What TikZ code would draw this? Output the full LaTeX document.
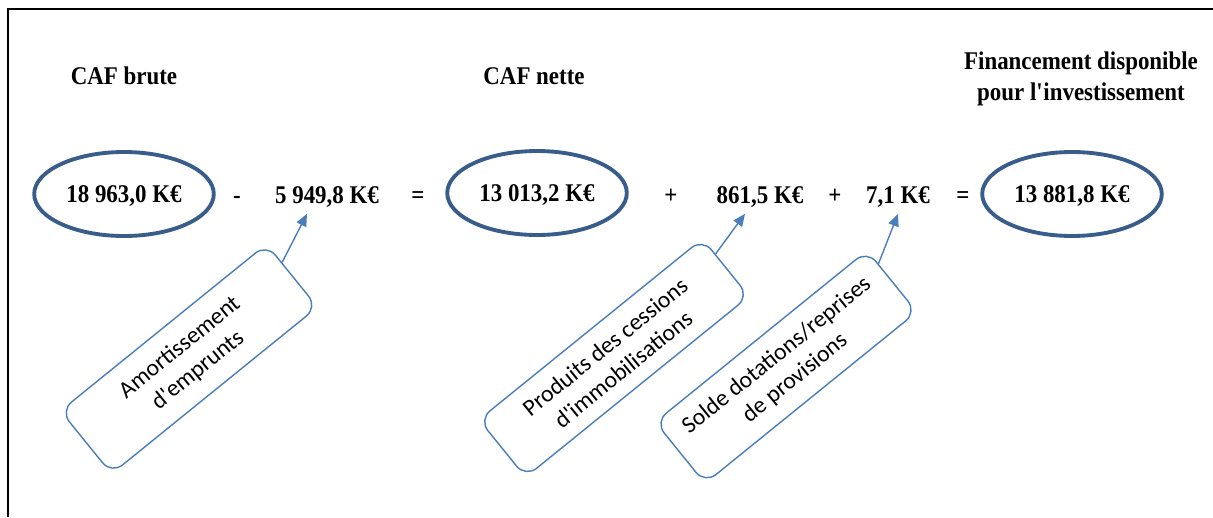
\documentclass[tikz,border=0pt]{standalone}
\usepackage{fontspec}
\setmainfont{Liberation Serif}[FakeStretch=0.9]
\newfontfamily\calloutfont{Carlito}
\usetikzlibrary{arrows.meta,calc,shapes.geometric}

\definecolor{ovalblue}{HTML}{385D8A}
\definecolor{calloutblue}{HTML}{4A7EBB}

\begin{document}
\begin{tikzpicture}[
        x=0.02cm,
        y=-0.02cm,
        every node/.style={font=\fontsize{14.5}{17.5}\selectfont\bfseries},
        title/.style={
            align=center
        },
        amount/.style={
            anchor=base,
            inner sep=2pt
        },
        oval/.style={
            ellipse,
            draw=ovalblue,
            line width=2.2pt,
            text depth=0pt,
            minimum width=3.42cm,
            minimum height=1.68cm
        },
        callout/.style={
            rectangle,
            rounded corners=8pt,
            draw=calloutblue,
            line width=0.8pt,
            align=center,
            rotate=39,
            font=\calloutfont\fontsize{13.5}{16.5}\selectfont
        },
        arrow/.style={
            -{Triangle[length=7pt,width=6pt]},
            draw=calloutblue,
            line width=0.8pt
        }
    ]

    \useasboundingbox (0,0) rectangle (1213,517);

    % frame
    \draw[line width=1.1pt] (8,517) -- (8,9) -- (1213,9);

    % titles
    \node[title, anchor=base] (brute) at (124,85) {CAF brute};
    \node[title, anchor=base] (nette) at (534,85) {CAF nette};
    \node[title] (dispo) at (1081,79)
    {Financement disponible\\pour l\textquotesingle investissement};

    % first row
    \node[oval] (o1) at (124,194) {18 963,0 K€};
    \node[amount] (minus) at (237,203) {-};
    \node[amount] (v1) at (327,203) {5 949,8 K€};
    \node[amount] (eq1) at (418,203) {=};
    \node[oval] (o2) at (537,193) {13 013,2 K€};
    \node[amount] (plus1) at (671,203) {+};
    \node[amount] (v2) at (760,203) {861,5 K€};
    \node[amount] (plus2) at (835,203) {+};
    \node[amount] (v3) at (898,203) {7,1 K€};
    \node[amount] (eq2) at (963,203) {=};
    \node[oval] (o3) at (1072,194) {13 881,8 K€};

    % callouts
    \node[callout, minimum width=5.3cm, minimum height=1.62cm] (b1) at (189,359)
    {Amortissement\\d\textquotesingle emprunts};
    \node[callout, minimum width=5.75cm, minimum height=1.48cm] (b2) at (614,358)
    {Produits des cessions\\d\textquotesingle immobilisations};
    \node[callout, minimum width=5.45cm, minimum height=1.58cm] (b3) at (786,367)
    {Solde dotations/reprises\\de provisions};

    % arrows
    \draw[arrow] ($(b1.east)!0.4!(b1.north east)$) -- ($(v1.south)+(-20,3)$);
    \draw[arrow] ($(b2.east)!0.45!(b2.north east)$) -- ($(v2.south)+(-15,3)$);
    \draw[arrow] ($(b3.east)!0.55!(b3.north east)$) -- ($(v3.south)+(0,3)$);

\end{tikzpicture}
\end{document}
